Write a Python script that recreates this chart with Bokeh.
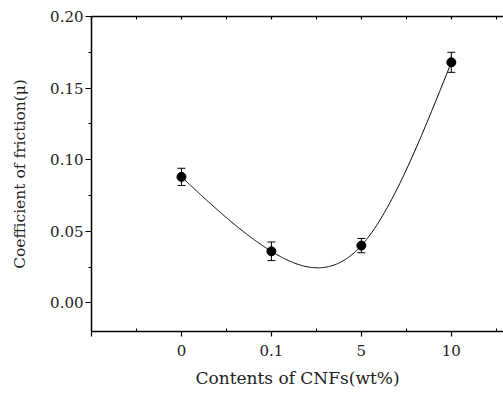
import numpy as np
from bokeh.plotting import figure
from bokeh.models import (Range1d, LinearAxis, FixedTicker, ColumnDataSource,
                          Whisker, TeeHead)
from bokeh.embed import file_html
from bokeh.resources import INLINE

# ---- data ----
categories = ["0", "0.1", "5", "10"]
cof = [0.088, 0.036, 0.040, 0.168]
err = [0.006, 0.0065, 0.005, 0.007]
y_ticks = [0.00, 0.05, 0.10, 0.15, 0.20]

xpos = np.arange(len(categories), dtype=float)
yv = np.array(cof)

# natural cubic spline through the data points
n = len(xpos)
h = np.diff(xpos)
A = np.zeros((n, n)); b = np.zeros(n)
A[0, 0] = 1; A[-1, -1] = 1
for i in range(1, n - 1):
    A[i, i - 1] = h[i - 1]; A[i, i] = 2 * (h[i - 1] + h[i]); A[i, i + 1] = h[i]
    b[i] = 6 * ((yv[i + 1] - yv[i]) / h[i] - (yv[i] - yv[i - 1]) / h[i - 1])
M = np.linalg.solve(A, b)
xs = np.linspace(xpos[0], xpos[-1], 300)
ys = np.empty_like(xs)
for k, t in enumerate(xs):
    i = min(int(np.searchsorted(xpos, t, side="right") - 1), n - 2)
    a_, b_ = xpos[i], xpos[i + 1]; hh = b_ - a_
    ys[k] = (M[i] * (b_ - t) ** 3 / (6 * hh) + M[i + 1] * (t - a_) ** 3 / (6 * hh)
             + (yv[i] / hh - M[i] * hh / 6) * (b_ - t)
             + (yv[i + 1] / hh - M[i + 1] * hh / 6) * (t - a_))

FONT = "DejaVu Serif"
TXT = "#222222"

p = figure(width=503, height=390, output_backend="svg", toolbar_location=None,
           x_range=Range1d(-1, 3.58), y_range=Range1d(-0.02, 0.20),
           min_border_left=91, min_border_right=0, min_border_top=16,
           min_border_bottom=59)
p.outline_line_color = None
p.grid.visible = False
p.background_fill_color = "white"
p.border_fill_color = "white"

# bottom axis
xa = p.xaxis[0]
xa.ticker = FixedTicker(ticks=[-1, 0, 1, 2, 3], minor_ticks=[-0.5, 0.5, 1.5, 2.5, 3.5])
xa.major_label_overrides = {-1: "", 0: categories[0], 1: categories[1],
                            2: categories[2], 3: categories[3]}
xa.major_tick_in = 0; xa.major_tick_out = 5
xa.minor_tick_in = 3; xa.minor_tick_out = 0
xa.axis_label = "Contents of CNFs(wt%)"
xa.major_label_standoff = 8
xa.axis_label_standoff = 9

# left axis
ya = p.yaxis[0]
ya.ticker = FixedTicker(ticks=y_ticks, minor_ticks=[0.025, 0.075, 0.125, 0.175])
ya.major_label_overrides = {v: f"{v:.2f}" for v in y_ticks}
ya.major_tick_in = 0; ya.major_tick_out = 6
ya.minor_tick_in = 0; ya.minor_tick_out = 3
ya.major_label_standoff = 2
ya.axis_label = "Coefficient of friction(\u03bc)"
ya.axis_label_standoff = 18

# top axis (ticks only)
ta = LinearAxis(ticker=FixedTicker(ticks=[-1, 0, 1, 2, 3],
                                   minor_ticks=[-0.5, 0.5, 1.5, 2.5, 3.5]))
ta.major_label_overrides = {-1: "", 0: "", 1: "", 2: "", 3: ""}
ta.major_tick_in = 3; ta.major_tick_out = 0
ta.minor_tick_in = 3; ta.minor_tick_out = 0
ta.major_label_standoff = 0
p.add_layout(ta, "above")

for ax in (xa, ya, ta):
    ax.axis_line_color = "black"
    ax.axis_line_width = 1.5
    ax.major_tick_line_color = "black"
    ax.minor_tick_line_color = "black"
    ax.major_tick_line_width = 1.2
    ax.major_label_text_font = FONT
    ax.major_label_text_font_size = "15px"
    ax.major_label_text_color = TXT
    ax.axis_label_text_font = FONT
    ax.axis_label_text_font_size = "17px"
    ax.axis_label_text_font_style = "normal"
    ax.axis_label_text_color = TXT
ya.axis_label_text_font_size = "15.5px"

# spline curve
p.line(xs, ys, line_color="black", line_width=1)

# error bars
src = ColumnDataSource(dict(x=xpos, y=yv,
                            lo=yv - np.array(err), hi=yv + np.array(err)))
w = Whisker(source=src, base="x", lower="lo", upper="hi",
            line_color="black", line_width=1,
            upper_head=TeeHead(size=8, line_color="black", line_width=1),
            lower_head=TeeHead(size=8, line_color="black", line_width=1))
p.add_layout(w)

p.scatter("x", "y", source=src, size=9, color="black")

open("out.html", "w").write(file_html(p, INLINE))
